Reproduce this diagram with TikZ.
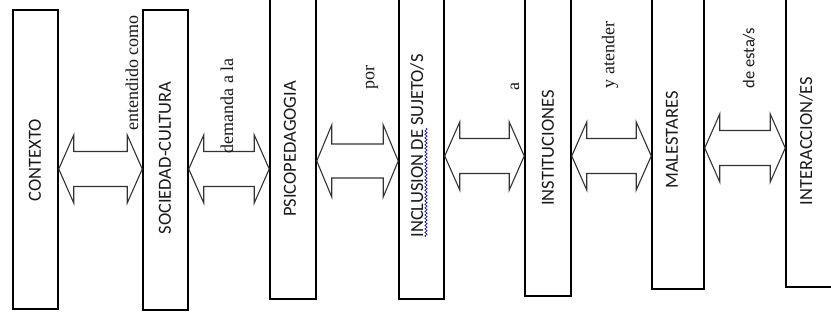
\documentclass[tikz,border=0pt]{standalone}
\usepackage{fontspec}
\setmainfont{Liberation Serif}
\newfontfamily\boxfont{Carlito}
\usetikzlibrary{calc,decorations.pathmorphing}
\tikzset{
  box/.style={draw=black, line width=1.5pt, inner sep=0pt, rectangle},
  boxtext/.style={rotate=90, inner sep=0pt, font=\boxfont\fontsize{18.5}{18.5}\selectfont, text=black!90},
  lbl/.style={rotate=90, inner sep=0pt, font=\fontsize{18}{18}\selectfont, text=black!90},
  sanslbl/.style={rotate=90, inner sep=0pt, font=\boxfont\fontsize{16.5}{16.5}\selectfont, text=black!90},
  dbl/.style={draw=black!80, line width=1.1pt, line join=miter},
  squig/.style={draw=blue!70!black, line width=0.6pt, decorate, decoration={snake, amplitude=1.2pt, segment length=3.5pt}}
}
\newcommand\dbarrow[5]{%
  \draw[dbl] (#1.east |- 0,#3) -- ++(15,-#4) -- ++(0,#4-#5)
    -- ($(#2.west |- 0,#3)+(-15,-#5)$) -- ++(0,#5-#4)
    -- (#2.west |- 0,#3) -- ++(-15,#4) -- ++(0,#5-#4)
    -- ($(#1.east |- 0,#3)+(15,#5)$) -- ++(0,#4-#5) -- cycle;}
\begin{document}
\begin{tikzpicture}[x=1pt,y=-1pt]
\useasboundingbox (0,0) rectangle (831,326);
% boxes
\node[box, minimum width=45pt, minimum height=299pt] (b1) at (35.5,159.5) {};
\node[box, minimum width=45pt, minimum height=300pt] (b2) at (165.5,160) {};
\node[box, minimum width=46pt, minimum height=302pt] (b3) at (293,148) {};
\node[box, minimum width=45pt, minimum height=302pt] (b4) at (421.5,148) {};
\node[box, minimum width=46pt, minimum height=299pt] (b5) at (548,146.5) {};
\node[box, minimum width=52pt, minimum height=292pt] (b6) at (678,143) {};
\node[box, minimum width=54pt, minimum height=290pt] (b7) at (813,142) {};
% box texts
\node[boxtext] (t1) at (35,160) {CONTEXTO};
\node[boxtext] (t2) at (165,158) {SOCIEDAD-CULTURA};
\node[boxtext] (t3) at (290,149) {PSICOPEDAGOGIA};
\node[boxtext] (t4) at (417,146) {INCLUSION DE SUJETO/S};
\node[boxtext] (t5) at (548,148) {INSTITUCIONES};
\node[boxtext] (t6) at (672,140) {MALESTARES};
\node[boxtext] (t7) at (806,141) {INTERACCION/ES};
% spell-check squiggle
\coordinate (sq1) at (426,237);
\coordinate (sq2) at (426,128);
\draw[squig] (sq1) -- (sq2);
% double arrows
\dbarrow{b1}{b2}{169}{34}{17.5}
\dbarrow{b2}{b3}{169}{34}{17.5}
\dbarrow{b3}{b4}{161}{36}{17}
\dbarrow{b4}{b5}{156}{34}{17.5}
\dbarrow{b5}{b6}{156}{34}{17.5}
\dbarrow{b6}{b7}{148}{34}{17.5}
% connector labels
\node[lbl] (l1) at (132,73) {entendido como};
\node[lbl] (l2) at (227,106) {demanda a la};
\node[lbl] (l3) at (372,78) {por};
\node[lbl] (l4) at (515,87) {a};
\node[lbl] (l5) at (610,55) {y atender};
\node[sanslbl] (l6) at (749,58) {de esta/s};
\end{tikzpicture}
\end{document}
